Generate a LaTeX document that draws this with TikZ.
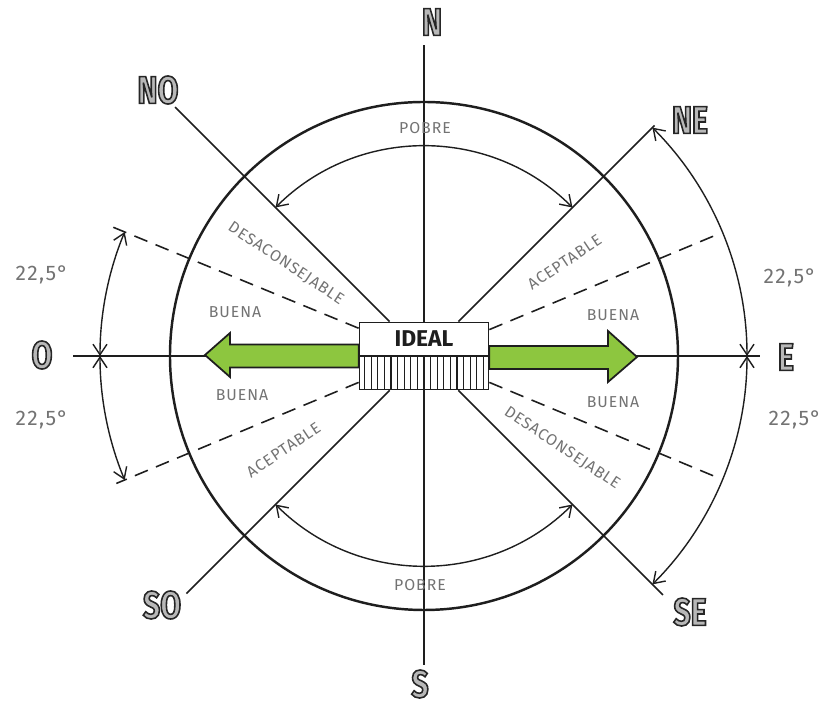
\documentclass[tikz,border=0pt]{standalone}
\usepackage{fontspec}
\usepackage{xcolor}
\usepackage{tikz}
\usetikzlibrary{arrows.meta, calc}
\setmainfont{Fira Sans}
\newfontfamily\zonefont[LetterSpace=6]{Fira Sans}
\newfontfamily\dirfont[FakeStretch=0.78]{Fira Sans}
\definecolor{mygreen}{RGB}{141,198,63}
\definecolor{mygray}{RGB}{115,115,115}
\definecolor{mydark}{RGB}{30,30,30}
\newcommand{\hollow}[1]{\special{pdf:literal direct 2 Tr 0.9 w 0.15 0.15 0.15 RG 0.72 0.72 0.72 rg}#1}
\tikzset{
  radial/.style={line width=0.9pt, color=mydark},
  rim/.style={line width=1.4pt, color=mydark},
  dashray/.style={line width=0.9pt, color=mydark, dash pattern=on 8pt off 5pt},
  dimarrow/.style={line width=0.8pt, color=mydark,
    {Straight Barb[length=6pt,width=8pt]}-{Straight Barb[length=6pt,width=8pt]}},
  greenarrow/.style={draw=mydark, fill=mygreen, line width=1pt, line join=miter},
  dirlabel/.style={font=\dirfont\bfseries\fontsize{22}{22}\selectfont},
  zonelabel/.style={font=\zonefont\fontsize{9}{9}\selectfont, text=mygray, inner sep=0pt},
  anglelabel/.style={font=\zonefont\fontsize{12}{12}\selectfont, text=mygray}
}

\begin{document}
\begin{tikzpicture}[x=0.02cm, y=0.02cm]
  \useasboundingbox (-424,-353) rectangle (402,356);

  % ring and centre block
  \draw[rim] (0,0) circle[radius=254];
  \node[draw=mydark, fill=white, line width=1pt, minimum width=2.58cm,
    minimum height=1.34cm, inner sep=0pt] (ideal) at (0,0) {};

  % main axes and diagonals
  \draw[radial] (ideal.90) -- (90:311);
  \draw[radial] (ideal.270) -- (270:309);
  \draw[radial] (ideal.180) -- (180:351);
  \draw[radial] (ideal.0) -- (0:336);
  \draw[radial] (ideal.135) -- (135:352);
  \draw[radial] (ideal.45) -- (45:326);
  \draw[radial] (ideal.225) -- (225:336);
  \draw[radial] (ideal.315) -- (315:338);

  % 22,5 deg limits
  \draw[dashray] (ideal.157.5) -- (157.5:340);
  \draw[dashray] (ideal.202.5) -- (202.5:333);
  \draw[dashray] (ideal.22.5) -- (22.5:321);
  \draw[dashray] (ideal.-22.5) -- (-22.5:321);

  % dimension arcs
  \draw[dimarrow] (135:210) arc[start angle=135, end angle=45, radius=210];
  \draw[dimarrow] (225:210) arc[start angle=225, end angle=315, radius=210];
  \draw[dimarrow] (180:324) arc[start angle=180, end angle=157.5, radius=324];
  \draw[dimarrow] (180:324) arc[start angle=180, end angle=202.5, radius=324];
  \draw[dimarrow] (0:323) arc[start angle=0, end angle=45, radius=323];
  \draw[dimarrow] (0:323) arc[start angle=0, end angle=-45, radius=323];

  % green arrows
  \draw[greenarrow] ($(ideal.west)+(0,11.5)$) -- (-194,11.5) -- (-194,23) -- (-219,1)
    -- (-194,-21) -- (-194,-11.5) -- ($(ideal.west)+(0,-11.5)$) -- cycle;
  \draw[greenarrow] ($(ideal.east)+(0,10)$) -- (184,10) -- (184,25) -- (213,-1)
    -- (184,-26) -- (184,-13) -- ($(ideal.east)+(0,-13)$) -- cycle;

  % block detail
  \draw[line width=1pt, mydark] (ideal.west) -- (ideal.east);
  \foreach \hx in {-9,...,9}
    \draw[line width=0.6pt, mydark] (\hx*6.6,-33.5) -- (\hx*6.6,0);
  \node[font=\bfseries\fontsize{13}{13}\selectfont, text=mydark] (idealtxt) at (0,17) {IDEAL};

  % compass points
  \node[dirlabel] (n) at (8,334) {\hollow{N}};
  \node[dirlabel] (s) at (-4,-328) {\hollow{S}};
  \node[dirlabel] (o) at (-382,1) {\hollow{O}};
  \node[dirlabel] (e) at (362,-1) {\hollow{E}};
  \node[dirlabel] (no) at (-266,266) {\hollow{NO}};
  \node[dirlabel] (ne) at (266,236) {\hollow{NE}};
  \node[dirlabel] (so) at (-262,-249) {\hollow{SO}};
  \node[dirlabel] (se) at (266,-256) {\hollow{SE}};

  % zones
  \node[zonelabel] (pobreN) at (1,228) {POBRE};
  \node[zonelabel] (pobreS) at (-4,-229) {POBRE};
  \node[zonelabel, rotate=-33.75] (desNO) at (146.25:166) {DESACONSEJABLE};
  \node[zonelabel, rotate=-33.75] (desSE) at (-33.75:166) {DESACONSEJABLE};
  \node[zonelabel, rotate=33.75] (acepNE) at (33.75:169) {ACEPTABLE};
  \node[zonelabel, rotate=33.75] (acepSO) at (213.75:169) {ACEPTABLE};
  \node[zonelabel] (buenaNO) at (-189,44) {BUENA};
  \node[zonelabel] (buenaSO) at (-182,-39) {BUENA};
  \node[zonelabel] (buenaNE) at (189,41) {BUENA};
  \node[zonelabel] (buenaSE) at (189,-46) {BUENA};

  % angles
  \node[anglelabel] (angO1) at (-382,81) {22,5°};
  \node[anglelabel] (angO2) at (-382,-64) {22,5°};
  \node[anglelabel] (angE1) at (366,78) {22,5°};
  \node[anglelabel] (angE2) at (371,-64) {22,5°};
\end{tikzpicture}
\end{document}
